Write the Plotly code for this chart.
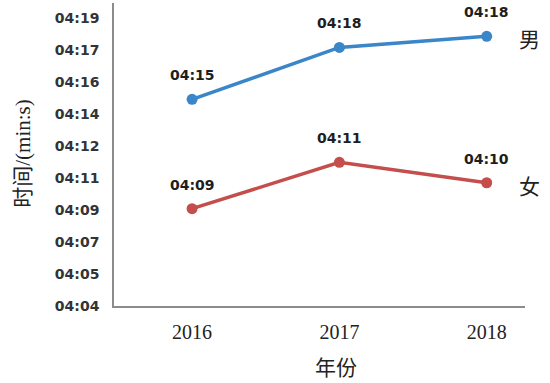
import plotly.graph_objects as go

# Race times in seconds (4 minutes + seconds) per year
years = [2016, 2017, 2018]
male_times = [254.8, 257.6, 258.2]
female_times = [248.9, 251.4, 250.3]
series_names = ["男", "女"]

# Axis ticks follow a 0.00002-day step (1.728 s)
y_ticks = [243.648 + 1.728 * k for k in range(10)]


def mmss(seconds):
    s = int(round(seconds))
    return f"{s // 60:02d}:{s % 60:02d}"


blue = "#3a86c8"
red = "#c44e4c"
label_font = dict(family="DejaVu Sans", size=14, color="#1e1e1e", weight="bold")
serif = "Liberation Serif, Noto Sans CJK SC"

fig = go.Figure()
for vals, color, name in [(male_times, blue, series_names[0]), (female_times, red, series_names[1])]:
    fig.add_trace(go.Scatter(
        x=years, y=vals, mode="lines+markers", name=name,
        line=dict(color=color, width=3.5),
        marker=dict(color=color, size=11),
        showlegend=False,
    ))
    for x, v in zip(years, vals):
        fig.add_annotation(x=x, y=v, text=mmss(v), showarrow=False,
                           yshift=24, font=label_font)
    # series name at the right end of each line
    fig.add_annotation(xref="paper", x=0.98, y=vals[-1], text=name, showarrow=False,
                       xanchor="left", yanchor="middle", yshift=-4,
                       font=dict(family=serif, size=21, color="#222"))

fig.add_annotation(xref="paper", yref="paper", x=-0.222, y=0.505, text="时间/(min:s)",
                   textangle=-90, showarrow=False, xanchor="center", yanchor="middle",
                   font=dict(family=serif, size=21, color="#222"))
fig.add_annotation(x=2017, yref="paper", y=-0.203, text="年份", showarrow=False,
                   xanchor="center", yanchor="middle",
                   xshift=-3, font=dict(family=serif, size=21, color="#222"))

fig.update_layout(
    width=550, height=383,
    margin=dict(l=114, r=25, t=3, b=77),
    paper_bgcolor="white", plot_bgcolor="white",
    xaxis=dict(range=[2015.47, 2018.26], tickvals=years, ticktext=[str(y) for y in years],
               showgrid=False, zeroline=False, showline=True, linecolor="#8c8c8c", linewidth=1.5,
               ticks="", ticklabelstandoff=7,
               tickfont=dict(family=serif, size=20, color="#222")),
    yaxis=dict(range=[243.648, 260.0], tickvals=y_ticks, ticktext=[mmss(t) for t in y_ticks],
               showgrid=False, zeroline=False, showline=True, linecolor="#8c8c8c", linewidth=1.5,
               ticks="", ticklabelstandoff=10,
               tickfont=dict(family="DejaVu Sans", size=14, color="#333", weight="bold")),
)

fig.write_html("out.html")
